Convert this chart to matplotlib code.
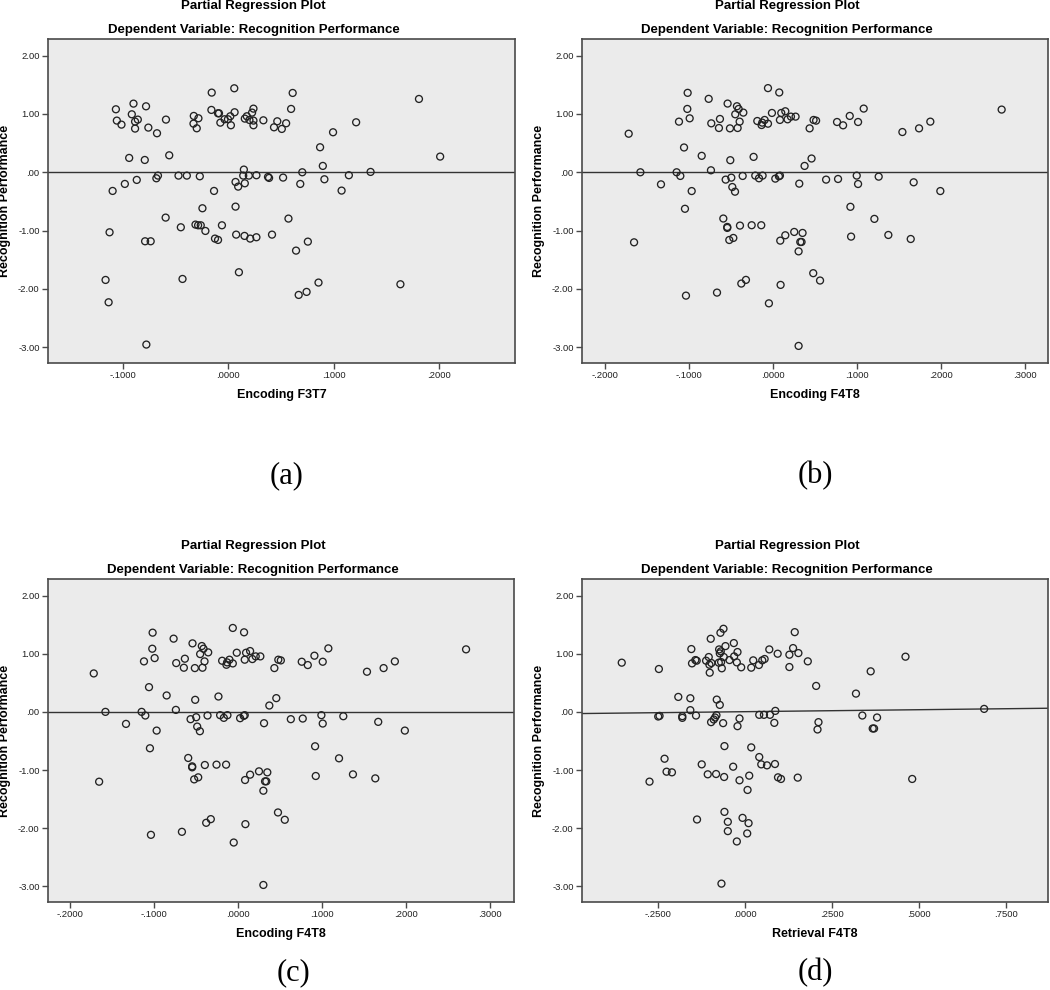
import matplotlib
matplotlib.use("Agg")
import matplotlib.pyplot as plt
from matplotlib.ticker import FuncFormatter, FixedLocator

plt.rcParams["font.family"] = ["Liberation Sans", "DejaVu Sans"]

# (a) Encoding F3T7 vs Recognition Performance (partial residuals)
enc_f3t7 = [
    -0.1066, -0.1057, -0.1013, -0.0899, -0.0915, -0.0884, -0.0858, -0.0884, -0.0780, -0.0758,
    -0.0676, -0.0591, -0.0940, -0.0792, -0.0560, -0.0981, -0.0868, -0.1097, -0.0682, -0.0667,
    -0.0472, -0.0393, -0.0270, -0.1126, -0.1164, -0.1135, -0.0777, -0.0789, -0.0736, -0.0594,
    -0.0450, -0.0434, -0.0311, -0.0286, -0.0261, -0.0217, -0.0245, -0.0135, -0.0060, -0.0126,
    -0.0097, -0.0327, -0.0283, -0.0330, -0.0299, -0.0157, -0.0160, -0.0097, -0.0088, -0.0075,
    -0.0035, -0.0003, 0.0019, 0.0025, 0.0057, 0.0060, 0.0157, 0.0176, 0.0201, 0.0226,
    0.0239, 0.0239, 0.0239, 0.0333, 0.0148, 0.0142, 0.0195, 0.0267, 0.0069, 0.0094,
    0.0157, 0.0069, 0.0075, 0.0154, 0.0208, 0.0267, 0.0101, 0.0377, 0.0387, 0.0415,
    0.0434, 0.0465, 0.0611, 0.0596, 0.0549, 0.0508, 0.0871, 0.0994, 0.1213, 0.0897,
    0.0702, 0.1144, 0.1350, 0.1809, 0.2010, 0.0520, 0.0683, 0.0912, 0.1075, 0.0571,
    0.0755, 0.0643, 0.0856, 0.0743, 0.0668, 0.1633,
]
perf_a = [
    1.080, 0.886, 0.817, 1.177, 0.994, 0.869, 0.903, 0.749, 1.131, 0.766,
    0.669, 0.903, 0.246, 0.211, 0.291, -0.200, -0.131, -0.320, -0.103, -0.057,
    -0.057, -0.057, -0.069, -1.029, -1.846, -2.229, -2.954, -1.183, -1.183, -0.777,
    -0.943, -1.829, -0.897, -0.909, -0.909, -1.006, -0.617, -0.320, -0.909, -1.137,
    -1.160, 0.966, 0.926, 0.834, 0.754, 1.366, 1.069, 1.011, 1.011, 0.851,
    0.909, 0.909, 0.960, 0.806, 1.440, 1.029, 0.920, 0.960, 0.897, 1.023,
    1.091, 0.886, 0.806, 0.891, 0.046, -0.057, -0.057, -0.051, -0.166, -0.246,
    -0.189, -0.589, -1.069, -1.091, -1.137, -1.114, -1.714, -0.080, -0.097, -1.069,
    0.771, 0.874, 1.360, 1.086, 0.840, 0.743, 0.429, 0.686, 0.857, 0.109,
    0.000, -0.051, 0.006, 1.257, 0.269, -0.091, -0.200, -0.120, -0.314, -0.794,
    -1.189, -1.343, -1.891, -2.051, -2.103, -1.920,
]

# (b) and (c) Encoding F4T8 (same plot shown twice)
enc_f4t8 = [
    -0.1715, -0.1651, -0.1576, -0.1331, -0.1145, -0.1101, -0.1117, -0.1057, -0.1018, -0.1014,
    -0.0990, -0.0966, -0.1046, -0.1034, -0.0847, -0.0764, -0.0737, -0.0733, -0.0630, -0.0642,
    -0.0665, -0.0590, -0.0562, -0.0539, -0.0511, -0.0507, -0.0495, -0.0483, -0.0451, -0.0543,
    -0.0543, -0.0519, -0.0471, -0.0448, -0.0428, -0.0408, -0.0420, -0.0396, -0.0352, -0.0360,
    -0.0392, -0.0376, -0.0321, -0.0253, -0.0230, -0.0210, -0.0186, -0.0166, -0.0139, -0.0135,
    -0.0127, -0.0123, -0.0099, -0.0059, -0.0059, -0.0012, 0.0028, 0.0075, 0.0083, 0.0071,
    0.0083, 0.0099, 0.0147, 0.0174, 0.0214, 0.0269, 0.0087, 0.0147, 0.0091, -0.0048,
    0.0253, 0.0313, 0.0305, 0.0305, 0.0325, 0.0352, 0.0340, 0.0376, 0.0459, 0.0436,
    0.0483, 0.0479, 0.0513, 0.0560, 0.0762, 0.0834, 0.0913, 0.1079, 0.1012, 0.1539,
    0.1737, 0.1871, 0.2719, 0.0632, 0.0774, 0.0996, 0.1012, 0.1257, 0.1673, 0.1990,
    0.0921, 0.1206, 0.0929, 0.1372, 0.1638,
]
perf_bc = [
    0.661, -1.201, 0.000, -0.207, 0.000, -0.063, 0.868, 0.425, 1.086, 1.362,
    0.925, -0.322, -0.626, -2.115, 0.282, 1.259, 0.034, 0.839, 0.914, 0.759,
    -2.063, -0.793, -0.126, 1.178, 0.753, 0.207, -0.092, -0.253, -0.333, -0.937,
    -0.954, -1.161, -1.126, 0.994, 1.132, 1.086, 0.759, 0.868, 1.023, -0.063,
    -0.914, -1.908, -1.845, -0.908, 0.264, -0.057, 0.879, -0.103, -0.908, 0.810,
    0.851, -0.057, 0.897, 1.443, 0.833, 1.017, -0.109, 1.368, -0.057, -0.069,
    0.897, 1.017, 1.046, 0.908, 0.954, 0.954, -1.172, -1.080, -1.931, -2.247,
    -1.023, -0.195, -1.356, -2.977, -1.195, -1.040, -1.195, 0.109, 0.236, 0.753,
    0.897, -1.730, 0.885, -1.856, 0.862, 0.805, 0.966, 1.092, 0.862, 0.690,
    0.753, 0.868, 1.075, -0.126, -0.115, -0.057, -0.201, -0.075, -0.172, -0.322,
    -0.592, -0.799, -1.103, -1.075, -1.144,
]

# (d) Retrieval F4T8
ret_f4t8 = [
    -0.3538, -0.2471, -0.2740, -0.2490, -0.2452, -0.2308, -0.2250, -0.2096, -0.1913, -0.1798,
    -0.1798, -0.1567, -0.1567, -0.1404, -0.1538, -0.1519, -0.1423, -0.1385, -0.1375, -0.1240,
    -0.1115, -0.1038, -0.1019, -0.1010, -0.0981, -0.0962, -0.1067, -0.0971, -0.0894, -0.0856,
    -0.0827, -0.0808, -0.0817, -0.0721, -0.0750, -0.0740, -0.0721, -0.0702, -0.0692, -0.0683,
    -0.0663, -0.0615, -0.0606, -0.0625, -0.0596, -0.0587, -0.0587, -0.0558, -0.0673, -0.0490,
    -0.0490, -0.0442, -0.0337, -0.0317, -0.0308, -0.0231, -0.0212, -0.0231, -0.0212, -0.0154,
    -0.0154, -0.0106, -0.0067, 0.0077, 0.0106, 0.0067, 0.0125, 0.0183, 0.0240, 0.0183,
    0.0413, 0.0404, 0.0413, 0.0471, 0.0500, 0.0548, 0.0567, 0.0635, 0.0702, 0.0721,
    0.0846, 0.0875, 0.0865, 0.0942, 0.0952, 0.1038, 0.1279, 0.1279, 0.1385, 0.1433,
    0.1538, 0.1519, 0.1808, 0.2048, 0.2115, 0.2087, 0.3192, 0.3375, 0.3615, 0.3798,
    0.3673, 0.3712, 0.4615, 0.4808, 0.6875,
]
perf_d = [
    0.846, 0.737, -1.200, -0.080, -0.069, -0.806, -1.029, -1.040, 0.257, -0.074,
    -0.103, 0.234, 0.029, -0.063, 1.080, 0.834, 0.891, 0.880, -1.851, -0.903,
    0.880, 0.943, 0.811, 0.674, 1.257, 0.840, -1.074, -0.177, -0.131, -0.097,
    -1.069, 0.211, -0.057, 0.120, 0.846, 1.074, 1.006, 1.360, 1.040, 0.857,
    0.749, 1.429, 0.943, -0.194, -1.120, -0.589, -1.720, 1.131, -2.954, -1.891,
    -2.051, 0.891, -0.943, 1.183, 0.954, -2.229, 1.029, 0.851, -0.246, -0.114,
    -1.177, 0.766, -1.823, -1.343, -1.914, -2.091, -1.097, 0.760, 0.886, -0.611,
    -0.777, 0.806, -0.051, -0.903, 0.886, -0.051, 0.909, -0.920, 1.074, -0.051,
    -0.189, 0.017, -0.897, 1.000, -1.126, -1.154, 0.983, 0.771, 1.097, 1.371,
    1.011, -1.131, 0.869, 0.446, -0.177, -0.303, 0.314, -0.063, 0.697, -0.097,
    -0.286, -0.286, 0.949, -1.154, 0.051,
]

# fitted lines: (intercept, slope)
fit_a = (0.0, 0.0)
fit_bc = (0.0, 0.0)
fit_d = (0.003, 0.068)

y_ticks = [-3, -2, -1, 0, 1, 2]
ticks_f4t8 = [-0.2, -0.1, 0.0, 0.1, 0.2, 0.3]
ticks_f3t7 = [-0.1, 0.0, 0.1, 0.2]
ticks_ret = [-0.25, 0.0, 0.25, 0.5, 0.75]

W, H = 1050, 990
BG = "#ebebeb"
EDGE = "#4a4a4a"


def spss_fmt(decimals):
    def f(v, _):
        s = f"{v:.{decimals}f}"
        if s.startswith("-0."):
            return "-" + s[2:]
        if s.startswith("0."):
            return s[1:]
        return s
    return FuncFormatter(f)


def draw_panel(fig, box, xs, ys, fit, xlim, xticks, xlabel, tag, tag_pos):
    left, top, right, bottom = box
    ax = fig.add_axes([left / W, 1 - bottom / H, (right - left) / W, (bottom - top) / H])
    ax.set_facecolor(BG)
    ax.scatter(xs, ys, s=25, facecolors="none", edgecolors="#222222", linewidths=0.95, zorder=3)
    ax.axline((0, fit[0]), slope=fit[1], color="#333333", lw=1.0, zorder=2)
    ax.set_xlim(*xlim)
    ax.set_ylim(-3.27, 2.285)
    ax.xaxis.set_major_locator(FixedLocator(xticks))
    ax.yaxis.set_major_locator(FixedLocator(y_ticks))
    ax.xaxis.set_major_formatter(spss_fmt(4))
    ax.yaxis.set_major_formatter(spss_fmt(2))
    ax.tick_params(direction="out", length=4, width=1.0, color=EDGE,
                   labelsize=6.8, labelcolor="#222222", pad=2)
    for sp in ax.spines.values():
        sp.set_color(EDGE)
        sp.set_linewidth(1.2)

    cx = (left + right) / 2
    fig.text((cx - 28) / W, 1 - (top - 33) / H, "Partial Regression Plot",
             ha="center", va="center", fontsize=9.5, fontweight="bold")
    fig.text((cx - 28) / W, 1 - (top - 8.5) / H, "Dependent Variable: Recognition Performance",
             ha="center", va="center", fontsize=9.5, fontweight="bold")
    fig.text((left - 43) / W, 1 - (top + bottom) / 2 / H, "Recognition Performance",
             rotation=90, ha="center", va="center", fontsize=9, fontweight="bold")
    fig.text(cx / W, 1 - (bottom + 32) / H, xlabel,
             ha="center", va="center", fontsize=9, fontweight="bold")
    fig.text(tag_pos[0] / W, 1 - tag_pos[1] / H, tag, ha="center", va="center",
             fontsize=22, family=["Liberation Serif", "DejaVu Serif"])
    return ax


def build_figure():
    fig = plt.figure(figsize=(10.5, 9.9), dpi=100)
    fig.patch.set_facecolor("white")
    draw_panel(fig, (48, 39, 515, 363), enc_f3t7, perf_a, fit_a,
               (-0.171, 0.272), ticks_f3t7, "Encoding F3T7", "(a)", (287, 476))
    draw_panel(fig, (582, 39, 1048, 363), enc_f4t8, perf_bc, fit_bc,
               (-0.227, 0.327), ticks_f4t8, "Encoding F4T8", "(b)", (815, 476))
    draw_panel(fig, (48, 579, 514, 902), enc_f4t8, perf_bc, fit_bc,
               (-0.226, 0.329), ticks_f4t8, "Encoding F4T8", "(c)", (293, 973))
    draw_panel(fig, (582, 579, 1048, 902), ret_f4t8, perf_d, fit_d,
               (-0.468, 0.871), ticks_ret, "Retrieval F4T8", "(d)", (815, 973))
    fig.savefig("out.png", dpi=100)


if __name__ == "__main__":
    build_figure()
